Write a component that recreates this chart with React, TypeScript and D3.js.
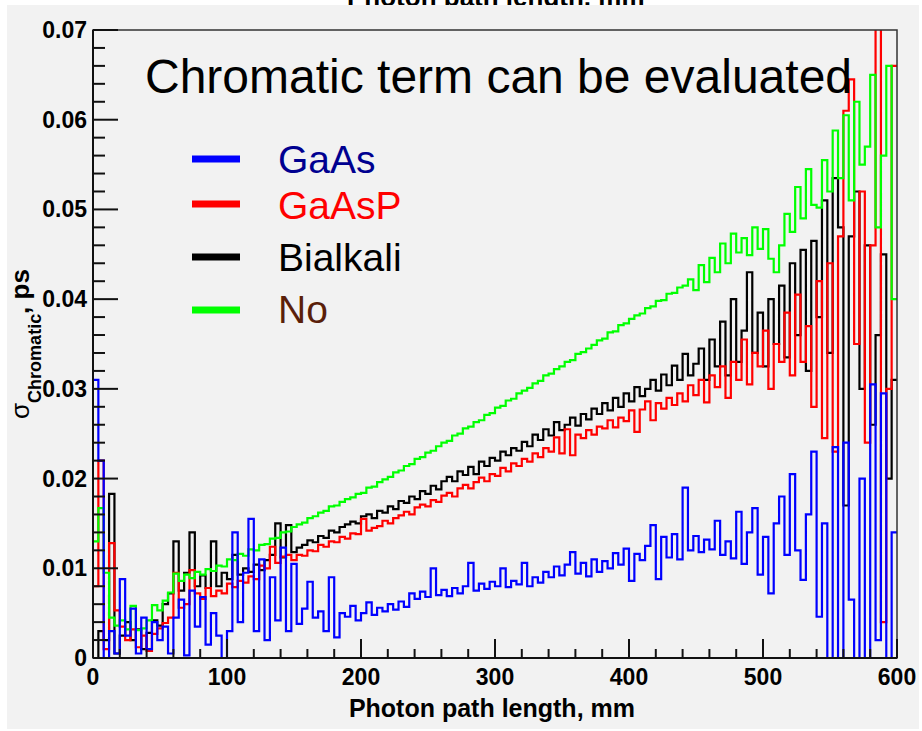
import React from "react";
import * as d3 from "d3";

// Histogram bin width along the photon path, mm
const BIN_MM = 4;

// Sigma of the chromatic term per bin, in fs (1e-3 ps)
const gaAs = [
  31, 22, 0, 3, 0.5, 8.8, 2.5, 5.5, 0.5, 4.5,
  1.0, 4.0, 2.0, 3.5, 0.5, 4.5, 6.5, 0.3, 7.5, 3.5,
  6.8, 1.5, 5.0, 2.5, 0, 3.0, 14.0, 4.0, 9.5, 15.5,
  3.0, 11.0, 2.0, 9.0, 4.2, 12.3, 3.0, 10.5, 3.8, 5.5,
  8.5, 4.5, 5.2, 3.0, 9.0, 2.3, 5.0, 4.6, 5.8, 4.2,
  5.0, 6.2, 4.8, 5.6, 5.2, 6.0, 5.4, 6.3, 5.7, 7.2,
  6.6, 7.4, 6.8, 10.0, 7.0, 7.6, 6.9, 7.8, 7.2, 8.0,
  10.6, 7.5, 8.3, 7.7, 8.5, 8.0, 10.0, 7.9, 8.6, 8.2,
  10.6, 8.0, 9.0, 8.4, 9.6, 9.0, 10.2, 9.2, 10.4, 11.8,
  9.4, 10.6, 9.1, 11.0, 9.6, 10.8, 10.0, 11.7, 10.4, 12.2,
  8.6, 11.6, 10.9, 12.5, 14.8, 8.8, 13.5, 11.2, 13.8, 11.0,
  19.0, 12.0, 13.6, 11.8, 13.2, 12.1, 15.3, 11.5, 13.0, 11.1,
  16.3, 10.5, 14.0, 16.7, 9.3, 13.5, 7.2, 15.0, 18.0, 11.5,
  20.5, 12.0, 8.7, 16.0, 23.0, 4.6, 15.0, 0, 23.5, 0,
  24.0, 6.5, 0, 20.0, 0, 30.5, 2.0, 29.5, 0, 14.0,
];

const gaAsP = [
  8, 22, 1, 12.8, 5.3, 3.5, 2.0, 3.2, 1.2, 2.5,
  0.8, 2.7, 3.3, 3.9, 4.5, 9.5, 5.6, 6.0, 9.8, 7.2,
  6.6, 7.8, 6.9, 7.5, 7.2, 8.3, 7.9, 8.6, 8.4, 9.1,
  8.8, 10.3, 10.0, 12.4, 10.6, 11.3, 11.5, 10.9, 11.5, 11.4,
  12.0, 11.9, 12.6, 12.4, 13.0, 12.9, 13.5, 13.3, 13.9, 13.8,
  15.5, 14.2, 14.5, 14.7, 15.3, 15.0, 15.6, 15.9, 16.3, 16.0,
  16.8, 17.1, 16.9, 17.6, 17.4, 18.1, 18.4, 18.0, 18.9, 19.3,
  18.9, 19.6, 20.1, 19.7, 20.5, 20.3, 21.2, 20.8, 21.7, 21.4,
  22.2, 21.9, 22.8, 22.4, 23.4, 23.0, 24.6, 22.8, 25.5, 22.6,
  24.9, 24.5, 25.4, 24.9, 25.8, 25.6, 26.5, 25.7, 26.8, 26.4,
  27.6, 25.2, 27.7, 28.6, 26.5, 28.4, 27.8, 29.0, 28.2, 29.5,
  28.6, 30.4, 29.3, 31.0, 28.5, 31.5, 30.2, 32.5, 29.0, 33.0,
  31.0, 35.5, 30.5, 34.0, 32.5, 36.5, 30.0, 35.0, 33.0, 38.5,
  31.5, 40.5, 33.0, 37.0, 28.0, 42.0, 24.5, 44.0, 23.0, 47.0,
  61.0, 64.5, 35.0, 52.0, 24.0, 46.0, 71.0, 4.0, 30.0, 66.0,
];

const bialkali = [
  0, 3, 2, 18.3, 0.5, 2.5, 4.0, 2.0, 3.2, 1.0,
  2.8, 4.2, 3.6, 6.0, 7.2, 13.0, 7.5, 9.5, 14.0, 8.0,
  9.2, 7.8, 13.0, 8.0, 9.5, 8.8, 11.5, 9.3, 10.0, 9.6,
  10.4, 9.8, 10.9, 11.5, 15.0, 11.2, 14.8, 11.8, 12.3, 12.6,
  13.1, 12.9, 13.6, 13.4, 14.2, 14.0, 14.6, 14.9, 15.2, 15.0,
  15.8, 16.0, 15.6, 16.4, 16.2, 16.9, 16.6, 17.5, 17.3, 18.0,
  17.7, 18.6, 18.3, 19.2, 18.8, 19.7, 20.2, 19.7, 20.8, 20.4,
  21.3, 20.5, 21.9, 21.4, 22.3, 22.0, 23.0, 22.6, 23.4, 23.1,
  24.1, 23.6, 24.9, 24.3, 25.5, 24.8, 26.3, 25.4, 26.0, 26.8,
  25.9, 27.2, 26.6, 27.8, 27.2, 28.4, 27.6, 29.0, 28.0, 29.5,
  28.6, 30.2, 29.2, 30.0, 31.0, 29.8, 31.6, 30.4, 32.6, 31.0,
  33.9, 31.5, 32.8, 34.5, 31.0, 35.5, 32.5, 37.5, 31.5, 40.0,
  33.0, 36.5, 43.0, 34.0, 38.5, 32.5, 40.0, 35.0, 41.5, 33.5,
  44.0, 36.0, 45.5, 32.0, 46.5, 38.0, 51.0, 34.0, 53.5, 48.0,
  17.0, 47.0, 52.0, 30.0, 46.0, 26.0, 36.0, 45.0, 20.0, 31.0,
];

const noPc = [
  13, 16.7, 9.5, 4.5, 3.6, 4.2, 3.2, 5.8, 3.1, 3.3,
  4.2, 5.9, 5.3, 6.4, 7.3, 9.4, 8.6, 9.3, 8.9, 9.6,
  9.3, 9.9, 9.7, 10.3, 10.2, 11.0, 10.9, 11.6, 11.4, 12.1,
  12.0, 12.6, 12.7, 13.3, 13.4, 14.0, 14.1, 14.6, 14.9, 15.1,
  15.6, 15.8, 16.2, 16.4, 16.9, 17.0, 17.4, 17.7, 17.9, 18.3,
  18.4, 19.0, 19.1, 19.6, 19.9, 20.2, 20.7, 20.9, 21.4, 21.6,
  22.2, 22.4, 22.9, 23.1, 23.6, 24.0, 24.2, 24.8, 25.0, 25.6,
  25.8, 26.3, 26.5, 27.1, 27.3, 27.9, 28.1, 28.7, 28.9, 29.5,
  29.8, 30.1, 30.6, 30.9, 31.5, 31.7, 32.2, 32.5, 33.0, 33.2,
  33.9, 34.1, 34.5, 34.9, 35.4, 35.6, 36.3, 36.4, 37.1, 37.3,
  37.8, 38.2, 38.4, 39.0, 39.2, 39.8, 39.9, 40.6, 40.7, 41.3,
  41.5, 42.2, 41.0, 43.8, 41.9, 44.6, 43.0, 46.2, 44.0, 47.3,
  45.2, 46.8, 44.9, 48.0, 45.6, 47.8, 44.5, 43.0, 46.0, 49.5,
  47.5, 52.5, 49.0, 54.5, 50.5, 50.2, 55.5, 52.0, 58.8, 53.5,
  60.5, 51.0, 62.0, 55.0, 57.0, 65.0, 48.0, 56.0, 66.0, 40.0,
];

const seriesNames = ["GaAs", "GaAsP", "Bialkali", "No"];
const seriesColors = ["#0000ff", "#ff0000", "#000000", "#00ff00"];
const legendTextColors = ["#000090", "#ff0000", "#000000", "#5a1f0a"];
// drawing order: black, red, green, blue (blue on top)
const drawOrder = [2, 1, 3, 0];

const xMajor = [0, 100, 200, 300, 400, 500, 600];
const yMajor = [0, 10, 20, 30, 40, 50, 60, 70];

const FONT = "'Liberation Sans', Arial, Helvetica, sans-serif";

export default function App() {
  const data = [gaAs, gaAsP, bialkali, noPc];
  const x = d3.scaleLinear().domain([0, 600]).range([93, 897]);
  const y = d3.scaleLinear().domain([0, 70]).range([658, 30]);

  const line = d3
    .line<[number, number]>()
    .x((d) => x(d[0]))
    .y((d) => y(d[1]))
    .curve(d3.curveStepAfter);

  const histPath = (vals: number[]) => {
    const pts: [number, number][] = vals.map((v, i) => [i * BIN_MM, v]);
    pts.push([vals.length * BIN_MM, vals[vals.length - 1]]);
    return line(pts) as string;
  };

  const xMinor = d3.range(0, 601, 20).filter((v) => v % 100 !== 0);
  const yMinor = d3.range(0, 70.01, 2).filter((v) => v % 10 !== 0);
  const yLabel = (v: number) => (v === 0 ? "0" : (v / 1000).toFixed(2));

  const [x0, x1] = x.range();
  const [yb, yt] = y.range();

  return (
    <svg
      width={922}
      height={731}
      style={{ position: "absolute", left: 0, top: 0, display: "block" }}
      fontFamily={FONT}
    >
      <rect x={0} y={0} width={922} height={731} fill="#ffffff" />
      <text x={347} y={5.5} fontSize={26} fontWeight="bold" fill="#000">
        Photon path length, mm
      </text>
      <rect x={7} y={5} width={912} height={724} fill="#f2f2f2" />

      <defs>
        <clipPath id="frameClip">
          <rect x={x0} y={yt} width={x1 - x0} height={yb - yt} />
        </clipPath>
      </defs>

      <g clipPath="url(#frameClip)">
        {drawOrder.map((k) => (
          <path
            key={seriesNames[k]}
            d={histPath(data[k])}
            fill="none"
            stroke={seriesColors[k]}
            strokeWidth={2.2}
            strokeLinejoin="miter"
          />
        ))}
      </g>

      {/* frame */}
      <rect
        x={x0}
        y={yt}
        width={x1 - x0}
        height={yb - yt}
        fill="none"
        stroke="#333"
        strokeWidth={1.5}
      />
      <line x1={x0} x2={x0} y1={yt} y2={yb} stroke="#111" strokeWidth={2} />
      <line x1={x0} x2={x1} y1={yb} y2={yb} stroke="#111" strokeWidth={2} />

      {/* y ticks */}
      {yMajor.map((v) => (
        <g key={"ym" + v}>
          <line x1={x0} x2={x0 + 25} y1={y(v)} y2={y(v)} stroke="#111" strokeWidth={2} />
          <text
            x={87}
            y={y(v) + 8}
            textAnchor="end"
            fontSize={23}
            fontWeight="bold"
            fill="#000"
          >
            {yLabel(v)}
          </text>
        </g>
      ))}
      {yMinor.map((v) => (
        <line key={"yn" + v} x1={x0} x2={x0 + 12} y1={y(v)} y2={y(v)} stroke="#111" strokeWidth={2} />
      ))}

      {/* x ticks */}
      {xMajor.map((v) => (
        <g key={"xm" + v}>
          <line x1={x(v)} x2={x(v)} y1={yb} y2={yb - 19} stroke="#111" strokeWidth={2} />
          <text
            x={x(v)}
            y={685}
            textAnchor="middle"
            fontSize={23}
            fontWeight="bold"
            fill="#000"
          >
            {v}
          </text>
        </g>
      ))}
      {xMinor.map((v) => (
        <line key={"xn" + v} x1={x(v)} x2={x(v)} y1={yb} y2={yb - 9} stroke="#111" strokeWidth={2} />
      ))}

      {/* axis titles */}
      <text x={635} y={717} textAnchor="end" fontSize={25} fontWeight="bold" fill="#000">
        Photon path length, mm
      </text>
      <text
        transform="translate(29,344) rotate(-90)"
        textAnchor="middle"
        fill="#000"
        fontSize={26}
      >
        <tspan>σ</tspan>
        <tspan fontSize={18} fontWeight="bold" dy={12}>
          Chromatic
        </tspan>
        <tspan fontWeight="bold" dy={-12}>
          , ps
        </tspan>
      </text>

      {/* title */}
      <text x={145} y={93} fontSize={48} fill="#000">
        Chromatic term can be evaluated
      </text>

      {/* legend */}
      {seriesNames.map((name, k) => {
        const ly = [159, 204, 257, 310][k];
        const ty = [173, 219, 271, 323][k];
        return (
          <g key={"lg" + name}>
            <line x1={192} x2={240} y1={ly} y2={ly} stroke={seriesColors[k]} strokeWidth={7} />
            <text x={278} y={ty} fontSize={39} fill={legendTextColors[k]}>
              {name}
            </text>
          </g>
        );
      })}
    </svg>
  );
}
